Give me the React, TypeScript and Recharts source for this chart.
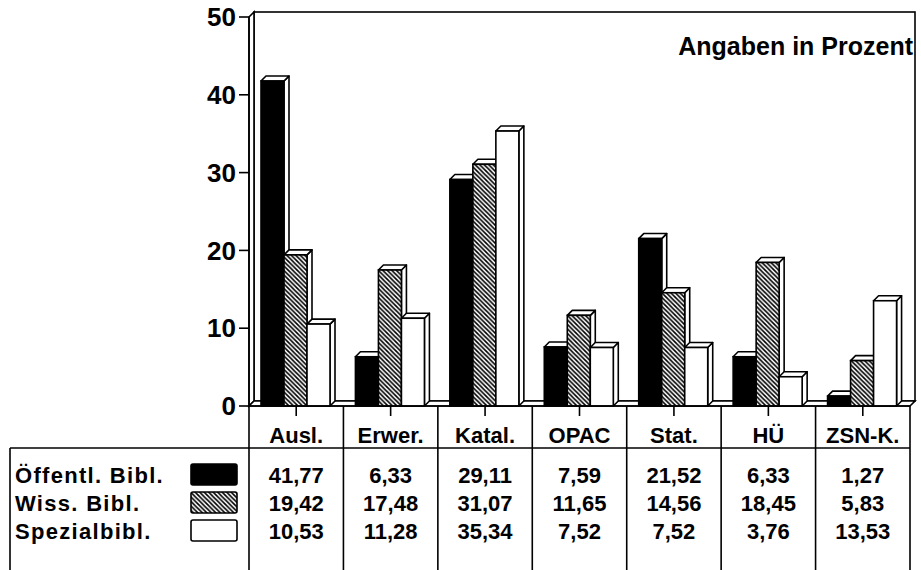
import React from 'react';
import { BarChart, Bar, XAxis, YAxis, CartesianGrid } from 'recharts';

const categories = ['Ausl.', 'Erwer.', 'Katal.', 'OPAC', 'Stat.', 'HÜ', 'ZSN-K.'];
const oeffentl = [41.77, 6.33, 29.11, 7.59, 21.52, 6.33, 1.27];
const wiss = [19.42, 17.48, 31.07, 11.65, 14.56, 18.45, 5.83];
const spezial = [10.53, 11.28, 35.34, 7.52, 7.52, 3.76, 13.53];
const seriesNames = ['Öffentl. Bibl.', 'Wiss. Bibl.', 'Spezialbibl.'];
const yTicks = [0, 10, 20, 30, 40, 50];
const titleText = 'Angaben in Prozent';

const seriesValues = [oeffentl, wiss, spezial];
const seriesFills = ['#000', 'url(#hatch)', '#fff'];
const data = categories.map((c, i) => ({ name: c, oeff: oeffentl[i], wiss: wiss[i], spez: spezial[i] }));

const W = 921;
const H = 570;
const M_TOP = 17;
const M_RIGHT = 11;
const Y_AXIS_W = 249;
const X_AXIS_H = 164;
const AXIS_Y = H - X_AXIS_H;
const DX = 5;
const DY = 5;
const FONT = '"Liberation Sans", Arial, Helvetica, sans-serif';
const SW = 1.6;

const HEADER_BASE = 443;
const HEADER_LINE_Y = 448;
const ROW_BASE = [483, 511, 539];
const LEGEND_X = 10;

const fmt = (v: number) => v.toFixed(2).replace('.', ',');

const make3D = (front: string) => (props: any) => {
  const { x, y, width, height } = props;
  if (x == null || y == null || !width || height == null) return <g />;
  const x2 = x + width;
  const yb = y + height;
  return (
    <g>
      <polygon
        points={`${x2},${y} ${x2 + DX},${y - DY} ${x2 + DX},${yb - DY} ${x2},${yb}`}
        fill="#fff"
        stroke="#000"
        strokeWidth={SW}
        strokeLinejoin="round"
      />
      <polygon
        points={`${x},${y} ${x + DX},${y - DY} ${x2 + DX},${y - DY} ${x2},${y}`}
        fill="#fff"
        stroke="#000"
        strokeWidth={SW}
        strokeLinejoin="round"
      />
      <rect x={x} y={y} width={width} height={height} fill={front} stroke="#000" strokeWidth={SW} />
    </g>
  );
};

const GridLine = (p: any) => {
  const gx = p.x ?? Y_AXIS_W;
  const gy = p.y ?? M_TOP;
  const gw = p.width ?? W - Y_AXIS_W - M_RIGHT;
  const gh = p.height ?? H - M_TOP - X_AXIS_H;
  const y1 = p.y1;
  if (Math.abs(y1 - gy) < 0.5) {
    const yb = gy + gh;
    return (
      <g>
        <defs>
          <pattern id="hatch" patternUnits="userSpaceOnUse" width="4.5" height="4.5">
            <rect width="4.5" height="4.5" fill="#fff" />
            <path d="M-1,-1 L5.5,5.5 M-1,3.5 L1,5.5 M3.5,-1 L5.5,1" stroke="#000" strokeWidth="1.6" />
          </pattern>
        </defs>
        <rect x={gx + DX} y={gy - DY} width={gw} height={gh} fill="#fff" stroke="#000" strokeWidth={SW} />
        <polygon
          points={`${gx},${gy} ${gx + DX},${gy - DY} ${gx + DX},${yb - DY} ${gx},${yb}`}
          fill="#fff"
          stroke="#000"
          strokeWidth={SW}
        />
        <polygon
          points={`${gx},${yb} ${gx + DX},${yb - DY} ${gx + gw + DX},${yb - DY} ${gx + gw},${yb}`}
          fill="#fff"
          stroke="#000"
          strokeWidth={SW}
        />
        <text
          x={gx + gw + 3}
          y={gy + 38}
          textAnchor="end"
          fontFamily={FONT}
          fontWeight="bold"
          fontSize={25}
          fill="#000"
        >
          {titleText}
        </text>
      </g>
    );
  }
  if (Math.abs(y1 - (gy + gh)) < 0.5) return <g />;
  return (
    <line
      x1={p.x1 + DX}
      x2={p.x2 + DX}
      y1={y1 - DY}
      y2={y1 - DY}
      stroke="#444"
      strokeWidth={1}
      strokeDasharray="1 5"
    />
  );
};

const TableTick = (props: any) => {
  const { x, payload } = props;
  const i: number = payload.index ?? categories.indexOf(payload.value);
  const plotW = W - Y_AXIS_W - M_RIGHT;
  const half = payload.offset && payload.offset > 0 ? payload.offset : plotW / categories.length / 2;
  const left = x - half;
  const right = x + half;
  const textProps = {
    fontFamily: FONT,
    fontWeight: 'bold' as const,
    fontSize: 22,
    fill: '#000',
    textAnchor: 'middle' as const,
  };
  return (
    <g>
      <line x1={x} y1={AXIS_Y} x2={x} y2={AXIS_Y + 10} stroke="#000" strokeWidth={SW} />
      <line x1={left} y1={AXIS_Y} x2={left} y2={H} stroke="#000" strokeWidth={SW} />
      {i === categories.length - 1 && (
        <line x1={right} y1={AXIS_Y} x2={right} y2={H} stroke="#000" strokeWidth={SW} />
      )}
      <line x1={left} y1={HEADER_LINE_Y} x2={right} y2={HEADER_LINE_Y} stroke="#000" strokeWidth={SW} />
      <text x={x} y={HEADER_BASE} {...textProps}>
        {payload.value}
      </text>
      {seriesValues.map((arr, r) => (
        <text key={r} x={x} y={ROW_BASE[r]} {...textProps}>
          {fmt(arr[i])}
        </text>
      ))}
      {i === 0 && (
        <g>
          <line x1={LEGEND_X} y1={HEADER_LINE_Y} x2={left} y2={HEADER_LINE_Y} stroke="#000" strokeWidth={SW} />
          <line x1={LEGEND_X} y1={HEADER_LINE_Y} x2={LEGEND_X} y2={H} stroke="#000" strokeWidth={SW} />
          {seriesNames.map((n, r) => (
            <g key={n}>
              <text
                x={LEGEND_X + 5}
                y={ROW_BASE[r]}
                fontFamily={FONT}
                fontWeight="bold"
                fontSize={22}
                letterSpacing={1.3}
                fill="#000"
              >
                {n}
              </text>
              <rect
                x={left - 58}
                y={ROW_BASE[r] - 19}
                width={46}
                height={21}
                rx={2}
                fill={seriesFills[r]}
                stroke="#000"
                strokeWidth={SW}
              />
            </g>
          ))}
        </g>
      )}
    </g>
  );
};

export default function App() {
  return (
    <div style={{ position: 'absolute', left: 0, top: 0, width: W, height: H, background: '#fff' }}>
      <BarChart
        width={W}
        height={H}
        data={data}
        margin={{ top: M_TOP, right: M_RIGHT, left: 0, bottom: 0 }}
        barGap={0}
        barCategoryGap={12}
      >
        <CartesianGrid vertical={false} horizontal={GridLine as any} />
        <YAxis
          type="number"
          domain={[0, 50]}
          ticks={yTicks}
          width={Y_AXIS_W}
          tickSize={10}
          tickMargin={3}
          axisLine={{ stroke: '#000', strokeWidth: SW }}
          tickLine={{ stroke: '#000', strokeWidth: SW }}
          tick={{ fill: '#000', fontSize: 26, fontWeight: 'bold', fontFamily: FONT }}
        />
        <XAxis
          dataKey="name"
          height={X_AXIS_H}
          interval={0}
          tickLine={false}
          axisLine={{ stroke: '#000', strokeWidth: SW }}
          tick={(p: any) => <TableTick {...p} />}
        />
        <Bar dataKey="oeff" fill="#000" shape={make3D('#000')} isAnimationActive={false} />
        <Bar dataKey="wiss" fill="url(#hatch)" shape={make3D('url(#hatch)')} isAnimationActive={false} />
        <Bar dataKey="spez" fill="#fff" shape={make3D('#fff')} isAnimationActive={false} />
      </BarChart>
    </div>
  );
}
